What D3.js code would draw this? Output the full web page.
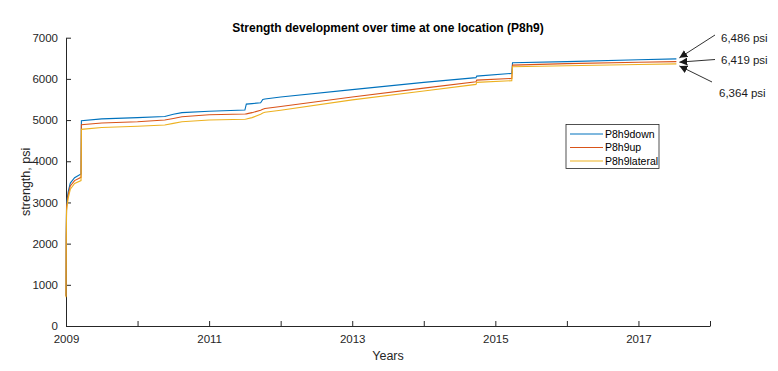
<!DOCTYPE html>
<html>
<head>
<meta charset="utf-8">
<script src="https://cdn.jsdelivr.net/npm/d3@7"></script>
<style>
  html, body { margin: 0; padding: 0; background: #fff; }
  text { font-family: "Liberation Sans", Arial, Helvetica, sans-serif; }
</style>
</head>
<body>
<svg id="chart" width="778" height="371"></svg>
<script>
// ---- data (decimal years) ----
const years = [2009.000, 2009.003, 2009.008, 2009.03, 2009.06, 2009.12, 2009.21, 2009.215, 2009.5, 2010.0,
  2010.38, 2010.5, 2010.62, 2011.0, 2011.5, 2011.52, 2011.6, 2011.72, 2011.75, 2011.78,
  2012.0, 2013.0, 2014.0, 2014.73, 2014.74, 2015.23, 2015.24, 2016.0, 2017.0, 2017.53];
const downValues = [735, 2200, 2985, 3250, 3470, 3600, 3690, 4983, 5030, 5060,
  5085, 5140, 5180, 5215, 5243, 5388, 5400, 5420, 5500, 5510,
  5560, 5740, 5915, 6030, 6068, 6133, 6390, 6420, 6465, 6486];
const upValues = [720, 2100, 2900, 3180, 3400, 3530, 3610, 4885, 4930, 4960,
  5000, 5040, 5080, 5130, 5146, 5150, 5180, 5240, 5265, 5283,
  5330, 5560, 5775, 5930, 5970, 6010, 6335, 6370, 6405, 6419];
const lateralValues = [700, 2000, 2800, 3100, 3320, 3460, 3530, 4775, 4820, 4850,
  4880, 4920, 4960, 5000, 5020, 5025, 5060, 5140, 5170, 5190,
  5240, 5490, 5705, 5866, 5915, 5955, 6296, 6320, 6350, 6364];
const seriesNames = ["P8h9down", "P8h9up", "P8h9lateral"];
const seriesColors = ["#0072BD", "#D95319", "#EDB120"];
const xTicks = [2009, 2010, 2011, 2012, 2013, 2014, 2015, 2016, 2017, 2018];
const xTickLabels = ["2009", "", "2011", "", "2013", "", "2015", "", "2017", ""];
const yTicks = [0, 1000, 2000, 3000, 4000, 5000, 6000, 7000];
const endLabels = ["6,486 psi", "6,419 psi", "6,364 psi"];
const titleText = "Strength development over time at one location (P8h9)";

// ---- layout ----
const svg = d3.select("#chart");
const mLeft = 66, mRight = 710, mTop = 37.7, mBottom = 326;
const x = d3.scaleLinear().domain([2009, 2018]).range([mLeft, mRight]);
const y = d3.scaleLinear().domain([0, 7000]).range([mBottom, mTop]);
const axisColor = "#262626";

// defs: arrowhead
svg.append("defs").append("marker")
  .attr("id", "arrow").attr("viewBox", "0 0 10 10")
  .attr("refX", 10).attr("refY", 5)
  .attr("markerWidth", 8).attr("markerHeight", 8)
  .attr("markerUnits", "userSpaceOnUse")
  .attr("orient", "auto")
  .append("path").attr("d", "M0,0 L10,5 L0,10 z").attr("fill", "#1a1a1a");

// x axis
const xAxis = d3.axisBottom(x).tickValues(xTicks)
  .tickFormat((d, i) => xTickLabels[i]).tickSizeInner(-5).tickSizeOuter(0).tickPadding(9);
const gx = svg.append("g").attr("transform", `translate(0,${mBottom})`).call(xAxis);
gx.select(".domain").attr("stroke", axisColor);
gx.selectAll(".tick line").attr("stroke", axisColor);
gx.selectAll(".tick text").attr("fill", axisColor).attr("font-size", 11.5)
  .attr("font-family", "Liberation Sans, Arial, sans-serif");

// y axis
const yAxis = d3.axisLeft(y).tickValues(yTicks).tickFormat(d3.format("d"))
  .tickSizeInner(-5).tickSizeOuter(0).tickPadding(8);
const gy = svg.append("g").attr("transform", `translate(${mLeft},0)`).call(yAxis);
gy.select(".domain").attr("stroke", axisColor);
gy.selectAll(".tick line").attr("stroke", axisColor);
gy.selectAll(".tick text").attr("fill", axisColor).attr("font-size", 11.5)
  .attr("font-family", "Liberation Sans, Arial, sans-serif");

// axis labels and title
svg.append("text").attr("x", (mLeft + mRight) / 2).attr("y", 360)
  .attr("text-anchor", "middle").attr("font-size", 12.5).attr("fill", axisColor).text("Years");
svg.append("text").attr("transform", `translate(30,${(mTop + mBottom) / 2}) rotate(-90)`)
  .attr("text-anchor", "middle").attr("font-size", 12.5).attr("fill", axisColor).text("strength, psi");
svg.append("text").attr("x", (mLeft + mRight) / 2).attr("y", 32)
  .attr("text-anchor", "middle").attr("font-size", 12).attr("font-weight", "bold")
  .attr("fill", "#000").text(titleText);

// lines
const seriesValues = [downValues, upValues, lateralValues];
const line = d3.line().x(d => x(d[0])).y(d => y(d[1]));
seriesValues.forEach((vals, i) => {
  svg.append("path")
    .datum(years.map((yr, j) => [yr, vals[j]]))
    .attr("fill", "none").attr("stroke", seriesColors[i])
    .attr("stroke-width", 1.1).attr("d", line);
});

// legend
const lg = svg.append("g").attr("transform", "translate(566,124.5)");
lg.append("rect").attr("width", 93).attr("height", 44)
  .attr("fill", "#fff").attr("stroke", "#262626").attr("stroke-width", 0.8);
seriesNames.forEach((name, i) => {
  const yy = 9.5 + i * 13.5;
  lg.append("line").attr("x1", 4).attr("x2", 37).attr("y1", yy).attr("y2", yy)
    .attr("stroke", seriesColors[i]).attr("stroke-width", 1.1);
  lg.append("text").attr("x", 39).attr("y", yy + 3.8).attr("font-size", 10.5)
    .attr("fill", "#000").text(name);
});

// end annotations
const lastYear = years[years.length - 1];
const endVals = [downValues[downValues.length - 1], upValues[upValues.length - 1], lateralValues[lateralValues.length - 1]];
const tipX = x(lastYear) + 3;
const annos = [
  { fromX: 715, fromY: 35, tx: 721, ty: 42, tipY: y(endVals[0]) - 1 },
  { fromX: 715, fromY: 59.5, tx: 721, ty: 63.5, tipY: y(endVals[1]) + 0.5 },
  { fromX: 712, fromY: 82, tx: 719, ty: 97, tipY: y(endVals[2]) + 2 }
];
annos.forEach((a, i) => {
  svg.append("line").attr("x1", a.fromX).attr("y1", a.fromY)
    .attr("x2", tipX).attr("y2", a.tipY)
    .attr("stroke", "#1a1a1a").attr("stroke-width", 0.9)
    .attr("marker-end", "url(#arrow)");
  svg.append("text").attr("x", a.tx).attr("y", a.ty).attr("font-size", 11.5)
    .attr("fill", "#1a1a1a").text(endLabels[i]);
});
</script>
</body>
</html>
